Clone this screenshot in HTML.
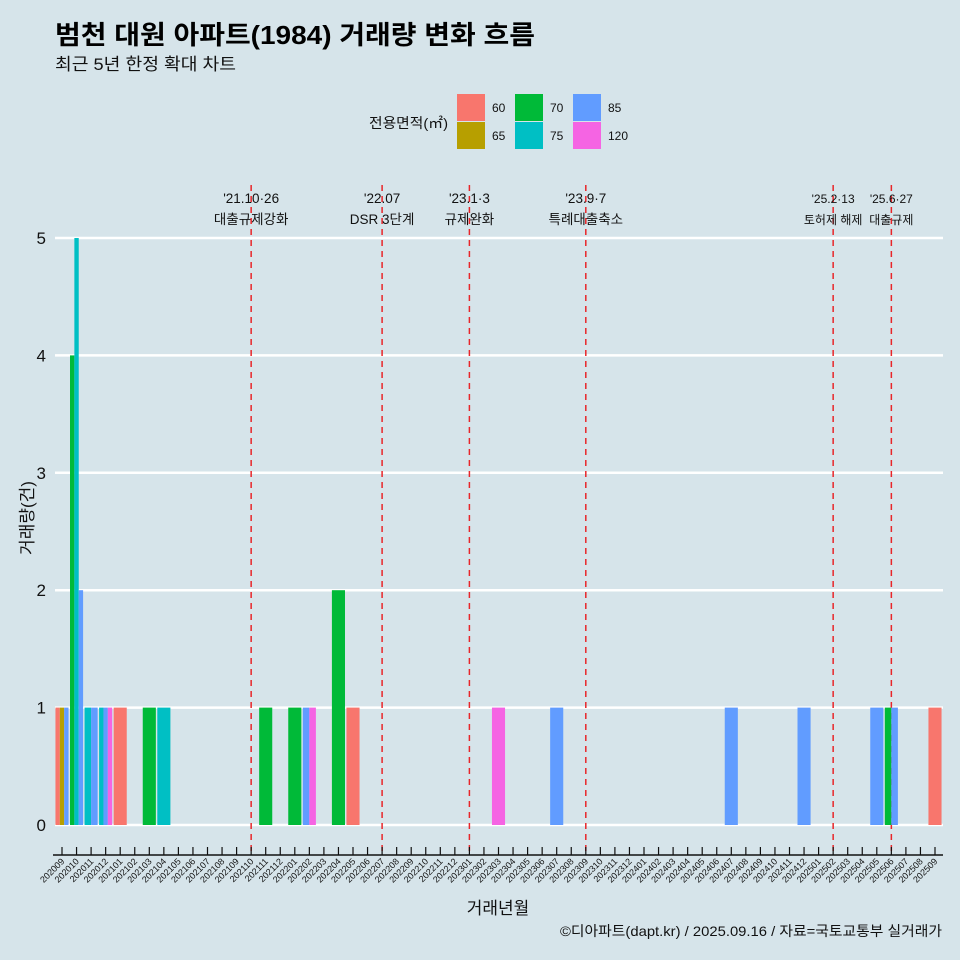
<!DOCTYPE html>
<html><head><meta charset="utf-8"><style>
body{margin:0;background:#D6E4EA;}
svg{display:block;font-family:"Liberation Sans","Noto Sans CJK KR",sans-serif;}
</style></head><body>
<svg id="c" width="960" height="960">
<rect width="960" height="960" fill="#D6E4EA"/>
<text x="55" y="44" font-size="26" font-weight="bold" fill="#000" textLength="480" lengthAdjust="spacingAndGlyphs">범천 대원 아파트(1984) 거래량 변화 흐름</text>
<text x="55" y="70" font-size="17" fill="#111" textLength="181" lengthAdjust="spacingAndGlyphs">최근 5년 한정 확대 차트</text>
<g id="legend">
<text x="369" y="128" font-size="14" fill="#111" textLength="79" lengthAdjust="spacingAndGlyphs">전용면적(㎡)</text>
</g>
<g id="grid"></g><g id="vlines"></g><g id="bars"></g><g id="axes"></g>
<text x="498" y="914" font-size="17" text-anchor="middle" fill="#111">거래년월</text>
<text transform="translate(33,518) rotate(-90)" font-size="17" text-anchor="middle" fill="#111">거래량(건)</text>
<text x="942" y="936" font-size="14" text-anchor="end" fill="#111" textLength="382" lengthAdjust="spacingAndGlyphs">©디아파트(dapt.kr) / 2025.09.16 / 자료=국토교통부 실거래가</text>
</svg>
<script>
const sizes=["60","65","70","75","85","120"];
const colors=["#F8766D","#B79F00","#00BA38","#00BFC4","#619CFF","#F564E3"];
const months=[];for(let y=2020,m=9;y*100+m<=202509;){months.push(String(y*100+m));m++;if(m>12){m=1;y++;}}
const recMonth=["202009","202009","202009","202010","202010","202010","202011","202011","202012","202012","202012","202101","202103","202104","202111","202201","202202","202202","202204","202205","202303","202307","202407","202412","202505","202506","202506","202509"];
const recSize=["60","65","85","70","75","85","75","85","75","85","120","60","70","75","70","70","85","120","70","60","120","85","85","85","85","70","85","60"];
const recCount=[1,1,1,4,5,2,1,1,1,1,1,1,1,1,1,1,1,1,2,1,1,1,1,1,1,1,1,1];
const yTicks=[0,1,2,3,4,5];
const evMonth=["202110","202207","202301","202309","202502","202506"];
const evDate=["'21.10·26","'22.07","'23.1·3","'23.9·7","'25.2·13","'25.6·27"];
const evText=["대출규제강화","DSR 3단계","규제완화","특례대출축소","토허제 해제","대출규제"];
const NS="http://www.w3.org/2000/svg";
function mk(p,t,a){const e=document.createElementNS(NS,t);for(const k in a)e.setAttribute(k,a[k]);document.getElementById(p).appendChild(e);return e;}
const x0=62,step=(935-62)/60;
const xs=m=>x0+months.indexOf(m)*step;
const ys=v=>825-v*117.4;
yTicks.forEach(v=>{
 const l=mk('grid','line',{x1:55,x2:943,y1:ys(v),y2:ys(v),stroke:'#fff','stroke-width':2.5});
 
 
 const t=mk('axes','text',{x:46,y:ys(v)+6,'font-size':17,'text-anchor':'end',fill:'#111'});
 t.textContent=v;
 
 
});
const bw=step*0.9;
months.forEach(m=>{
 const idx=recMonth.map((r,i)=>r===m?i:-1).filter(i=>i>=0);
 const n=idx.length;if(!n)return;
 idx.forEach((i,k)=>{
  const w=bw/n;const x=xs(m)-bw/2+k*w;
  const r=mk('bars','rect',{x:x,y:ys(recCount[i]),width:w,height:ys(0)-ys(recCount[i]),fill:colors[sizes.indexOf(recSize[i])]});
  
  
 });
});
evMonth.forEach((m,i)=>{
 const x=xs(m);
 const l=mk('vlines','line',{x1:x,x2:x,y1:185,y2:852,stroke:'#E8262A','stroke-width':1.5,'stroke-dasharray':'6,5'});
 
 
 const fs=i>=4?12:13.5;
 const a=mk('vlines','text',{x:x,y:203,'font-size':fs,'text-anchor':'middle',fill:'#111'});a.textContent=evDate[i];
 
 
 const b=mk('vlines','text',{x:x,y:224,'font-size':fs,'text-anchor':'middle',fill:'#111'});b.textContent=evText[i];
 
 
});
const ax=mk('axes','line',{x1:53,x2:943,y1:855,y2:855,stroke:'#111','stroke-width':1.5});


months.forEach(m=>{
 const x=xs(m);
 const t=mk('axes','line',{x1:x,x2:x,y1:847,y2:855,stroke:'#111','stroke-width':1.2});
 
 
 const l=mk('axes','text',{transform:`translate(${x+3},${862}) rotate(-45)`,'font-size':9,'text-anchor':'end',fill:'#111'});
 l.textContent=m;
 
 
});
sizes.forEach((s,i)=>{
 const order=[0,2,4,1,3,5];
 const j=order.indexOf(i);const c=j%3,r=Math.floor(j/3);
 const x=457+c*58,y=94+r*28;
 const k=mk('legend','rect',{x:x,y:y,width:28,height:27,fill:colors[i]});
 
 
 const t=mk('legend','text',{x:x+35,y:y+18,'font-size':12,fill:'#111'});t.textContent=s;
 
 
});
</script>
</body></html>
